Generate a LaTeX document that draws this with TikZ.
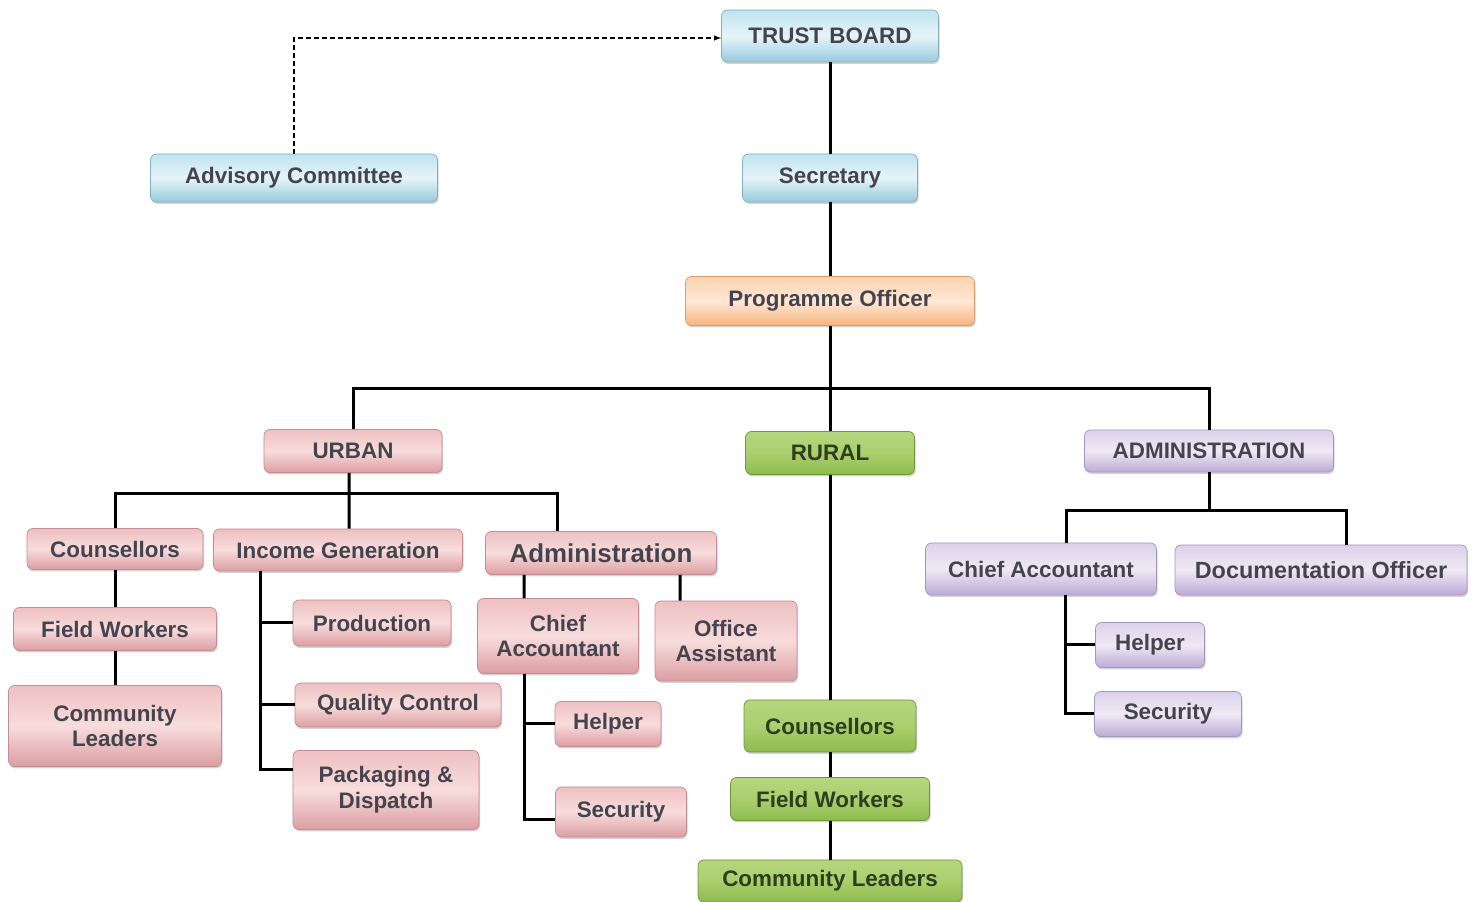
\documentclass[tikz,border=0pt]{standalone}
\usepackage{fontspec}
\setmainfont{Liberation Sans}
\usetikzlibrary{arrows,shapes,shadows}
\definecolor{txtgray}{HTML}{44444F}
\definecolor{txtgreen}{HTML}{2E3E1E}

\begin{document}
\begin{tikzpicture}[>=latex]
      \tikzstyle{every node}=[font=\bfseries\fontsize{22.5}{26}\selectfont, text=txtgray, align=center, inner sep=2bp]
      \tikzstyle{box}=[rounded corners=6bp, line width=.7bp, drop shadow={shadow xshift=1bp, shadow yshift=-2bp, opacity=.35}]
      \tikzstyle{bluebox}=[box, draw={rgb,255:red,128;green,176;blue,192}, top color={rgb,255:red,191;green,227;blue,238}, bottom color={rgb,255:red,150;green,203;blue,222}, middle color={rgb,255:red,230;green,244;blue,248}]
      \tikzstyle{orangebox}=[box, draw={rgb,255:red,220;green,156;blue,108}, top color={rgb,255:red,251;green,210;blue,174}, bottom color={rgb,255:red,246;green,180;blue,124}, middle color={rgb,255:red,254;green,232;blue,214}]
      \tikzstyle{pinkbox}=[box, draw={rgb,255:red,196;green,140;blue,148}, top color={rgb,255:red,238;green,192;blue,194}, bottom color={rgb,255:red,220;green,158;blue,162}, middle color={rgb,255:red,248;green,220;blue,220}]
      \tikzstyle{greenbox}=[box, draw={rgb,255:red,108;green,150;blue,56}, top color={rgb,255:red,182;green,214;blue,126}, bottom color={rgb,255:red,142;green,188;blue,76}, middle color={rgb,255:red,170;green,207;blue,110}, text=txtgreen]
      \tikzstyle{purplebox}=[box, draw={rgb,255:red,164;green,150;blue,190}, top color={rgb,255:red,220;green,210;blue,234}, bottom color={rgb,255:red,188;green,170;blue,214}, middle color={rgb,255:red,238;green,233;blue,244}]
      \tikzstyle{link}=[line width=3bp]
      \useasboundingbox (0,0) rectangle (1476bp,902bp);
      %%
  \node (tb) at (830bp,866bp) [bluebox, minimum width=217bp, minimum height=52bp] {TRUST BOARD};
  \node (adv) at (294bp,724bp) [bluebox, minimum width=287bp, minimum height=48bp] {Advisory Committee};
  \node (sec) at (830bp,724bp) [bluebox, minimum width=175bp, minimum height=48bp] {Secretary};
  \node (po) at (830bp,601bp) [orangebox, minimum width=289bp, minimum height=49bp] {Programme Officer};
  \node (urban) at (353bp,451bp) [pinkbox, minimum width=178bp, minimum height=43bp] {URBAN};
  \node (rural) at (830bp,449bp) [greenbox, minimum width=169bp, minimum height=43bp] {RURAL};
  \node (admin) at (1209bp,451bp) [purplebox, minimum width=249bp, minimum height=42bp] {ADMINISTRATION};
  %% urban
  \node (ucoun) at (115bp,353bp) [pinkbox, minimum width=176bp, minimum height=41bp] {Counsellors};
  \node (ufw) at (115bp,273bp) [pinkbox, minimum width=203bp, minimum height=43bp] {Field Workers};
  \node (ucl) at (115bp,176bp) [pinkbox, minimum width=213bp, minimum height=81bp] {Community\\Leaders};
  \node (uinc) at (338bp,352bp) [pinkbox, minimum width=249bp, minimum height=42bp] {Income Generation};
  \node (uprod) at (372bp,279bp) [pinkbox, minimum width=158bp, minimum height=46bp] {Production};
  \node (uqc) at (398bp,197bp) [pinkbox, minimum width=206bp, minimum height=44bp] {Quality Control};
  \node (upack) at (386bp,112bp) [pinkbox, minimum width=186bp, minimum height=79bp] {Packaging \&\\Dispatch};
  \node (uadm) at (601bp,349bp) [pinkbox, minimum width=231bp, minimum height=43bp, font=\bfseries\fontsize{26}{30}\selectfont] {Administration};
  \node (uchief) at (558bp,266bp) [pinkbox, minimum width=161bp, minimum height=75bp] {Chief\\Accountant};
  \node (uoff) at (726bp,261bp) [pinkbox, minimum width=142bp, minimum height=80bp] {Office\\Assistant};
  \node (uhelp) at (608bp,178bp) [pinkbox, minimum width=106bp, minimum height=45bp] {Helper};
  \node (usec) at (621bp,90bp) [pinkbox, minimum width=131bp, minimum height=50bp] {Security};
  %% rural
  \node (rcoun) at (830bp,176bp) [greenbox, minimum width=172bp, minimum height=52bp] {Counsellors};
  \node (rfw) at (830bp,103bp) [greenbox, minimum width=199bp, minimum height=43bp] {Field Workers};
  \node (rcl) at (830bp,21bp) [greenbox, minimum width=264bp, minimum height=42bp] {Community Leaders};
  %% administration
  \node (achief) at (1041bp,333bp) [purplebox, minimum width=231bp, minimum height=52bp] {Chief Accountant};
  \node (adoc) at (1321bp,332bp) [purplebox, minimum width=292bp, minimum height=50bp, font=\bfseries\fontsize{23.5}{27}\selectfont] {Documentation Officer};
  \node (ahelp) at (1150bp,257bp) [purplebox, minimum width=109bp, minimum height=45bp] {Helper};
  \node (asec) at (1168bp,188bp) [purplebox, minimum width=147bp, minimum height=45bp] {Security};
  %%
  \coordinate (hub) at (830bp,513bp);
  \coordinate (uhub) at (349bp,408bp);
  \coordinate (ahub) at (1209bp,391bp);
  \coordinate (itop) at (260bp,331bp);
  \coordinate (ctop) at ([xshift=-34bp]uchief.south);
  \coordinate (atop) at ([xshift=24bp]achief.south);
  \draw [->, dash pattern=on 5bp off 3bp, line width=1.4bp] (adv.north) |- ([yshift=-2bp]tb.west);
  \draw [link] (tb) -- (sec);
  \draw [link] (sec) -- (po);
  \draw [link] (po) -- (rural);
  \draw [link] (urban.north) |- (hub) -| (admin.north);
  \draw [link] ([xshift=-4bp]urban.south) -- ([xshift=11bp]uinc.north);
  \draw [link] (ucoun.north) |- (uhub) -| ([xshift=-44bp]uadm.north);
  \draw [link] (ucoun) -- (ufw);
  \draw [link] (ufw) -- (ucl);
  \draw [link] (itop) |- (uprod.west);
  \draw [link] (itop) |- (uqc.west);
  \draw [link] (itop) |- ([yshift=20bp]upack.west);
  \draw [link] ([xshift=-77bp]uadm.south) -- ([xshift=-34bp]uchief.north);
  \draw [link] ([xshift=79bp]uadm.south) -- ([xshift=-46bp]uoff.north);
  \draw [link] (ctop) |- (uhelp.west);
  \draw [link] (ctop) |- ([yshift=-8bp]usec.west);
  \draw [link] (rural) -- (rcoun);
  \draw [link] (rcoun) -- (rfw);
  \draw [link] (rfw) -- (rcl);
  \draw [link] (admin) -- (ahub);
  \draw [link] ([xshift=25bp]achief.north) |- (ahub) -| ([xshift=25bp]adoc.north);
  \draw [link] (atop) |- (ahelp.west);
  \draw [link] (atop) |- (asec.west);
%
\end{tikzpicture}
\end{document}
